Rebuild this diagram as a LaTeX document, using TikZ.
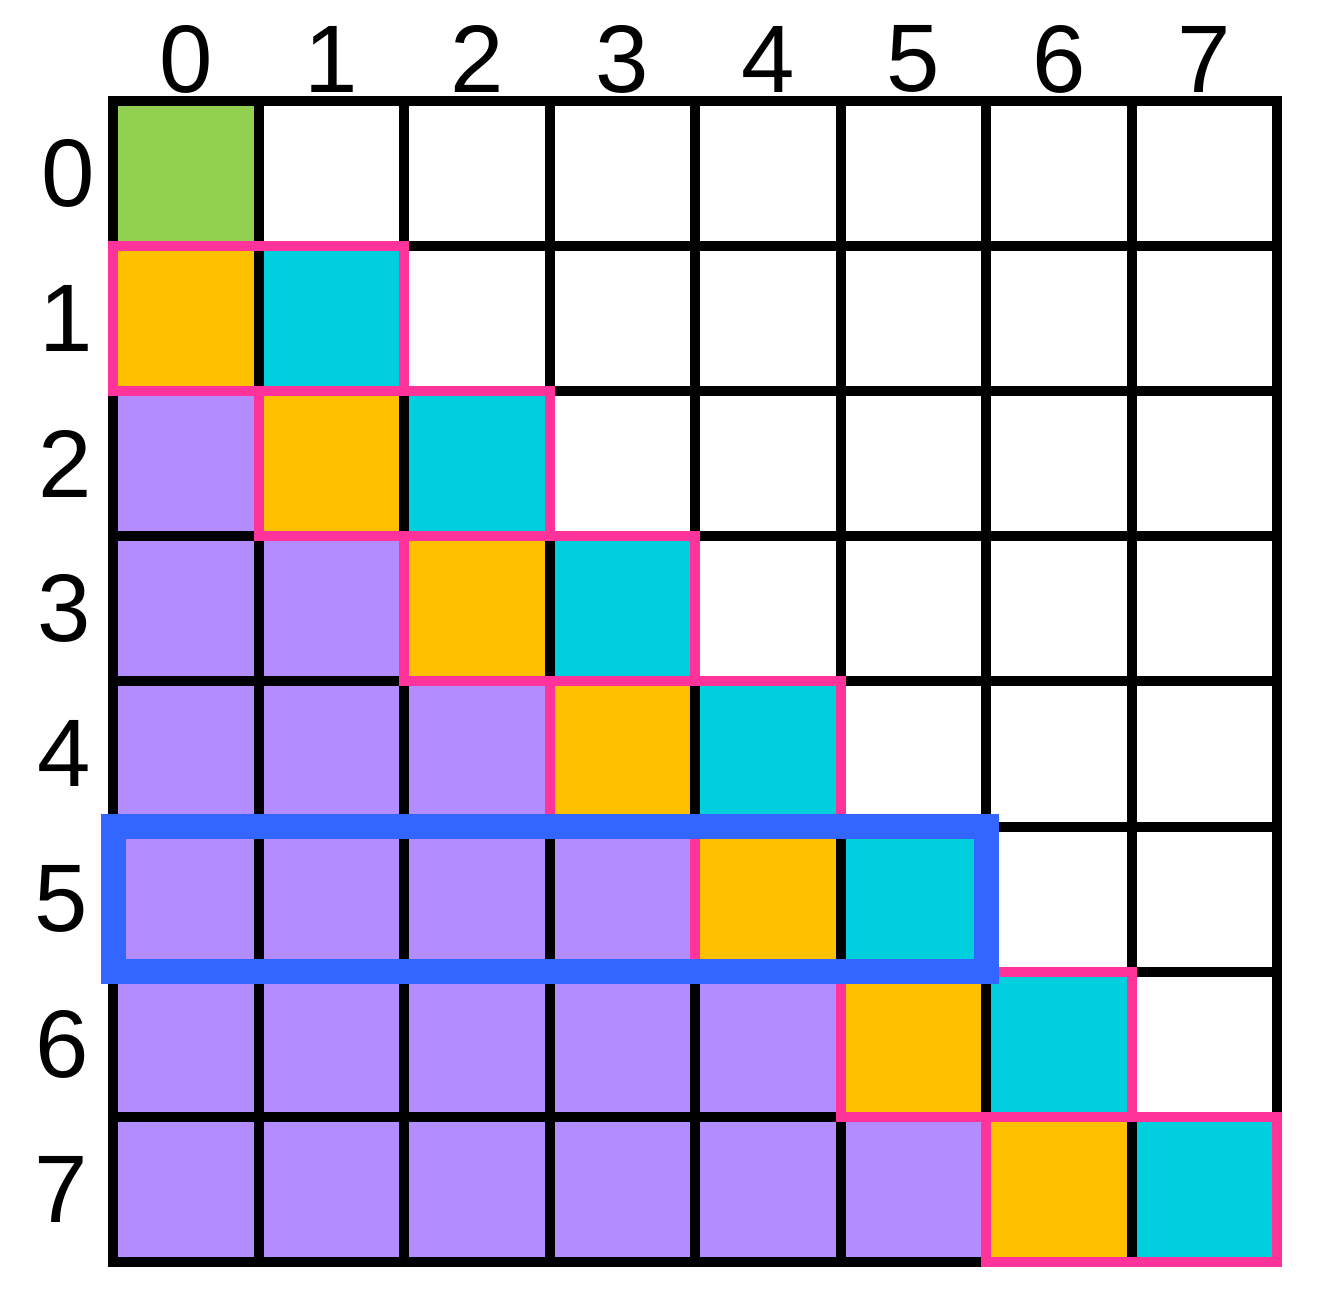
\documentclass[tikz,border=0pt]{standalone}
\usepackage{fontspec}
\setmainfont{Liberation Sans}
\definecolor{cgreen}{HTML}{92D050}
\definecolor{corange}{HTML}{FFC000}
\definecolor{ccyan}{HTML}{00CFDD}
\definecolor{cpurple}{HTML}{B38CFF}
\definecolor{cpink}{HTML}{FF3399}
\definecolor{cblue}{HTML}{3366FF}
\begin{document}
\begin{tikzpicture}
\useasboundingbox (0pt,0pt) rectangle (1319pt,-1293pt);
\begin{scope}[shift={(113pt,-101pt)}, x=145.5pt, y=-145.1pt,
  lbl/.style={font=\fontsize{96pt}{96pt}\selectfont, inner sep=0pt},
  gridline/.style={draw=black, line width=10pt, line cap=rect},
  pinkbox/.style={draw=cpink, line width=10pt, line join=miter},
  bluebox/.style={draw=cblue, line width=25pt, line join=miter}]
  % fills
  \fill[cgreen] (0,0) rectangle (1,1);
  \foreach \r in {1,...,7}{
    \pgfmathtruncatemacro\a{\r-1}
    \fill[corange] (\a,\r) rectangle (\r,\r+1);
    \fill[ccyan] (\r,\r) rectangle (\r+1,\r+1);
    \ifnum\r>1 \fill[cpurple] (0,\r) rectangle (\a,\r+1); \fi
  }
  % grid
  \foreach \i in {0,...,8}{
    \draw[gridline] (\i,0) -- (\i,8);
    \draw[gridline] (0,\i) -- (8,\i);
  }
  % pink boxes
  \foreach \r in {1,...,7}{
    \pgfmathtruncatemacro\a{\r-1}
    \draw[pinkbox] (\a,\r) rectangle (\r+1,\r+1);
  }
  % blue box
  \draw[bluebox] (0,5) rectangle (6,6);
  % labels
  \foreach \c in {0,...,7}{
    \node[lbl, yshift=42pt] (col\c) at (\c+0.5,0) {\c};
  }
  \foreach \r/\dx in {0/-45,1/-47,2/-48,3/-49,4/-49,5/-52,6/-51,7/-52}{
    \node[lbl, xshift=\dx pt] (row\r) at (0,\r+0.5) {\r};
  }
\end{scope}
\end{tikzpicture}
\end{document}
